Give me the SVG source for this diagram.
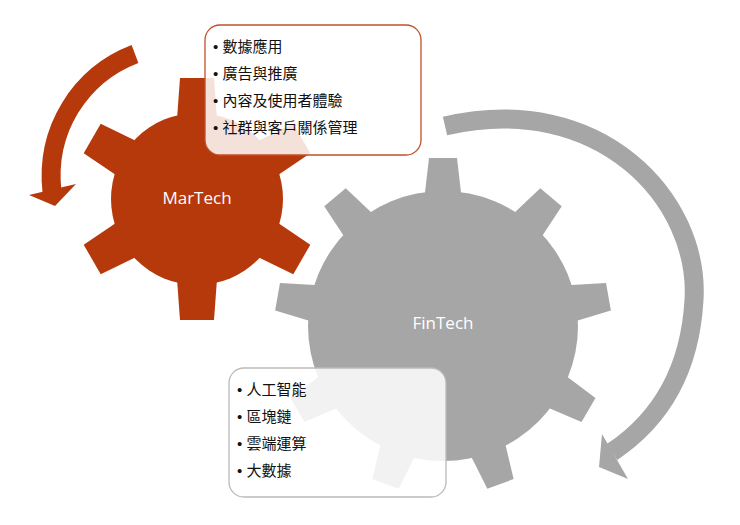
<svg xmlns="http://www.w3.org/2000/svg" width="740" height="525" viewBox="0 0 740 525">
<style>
.mar{fill:#B5390B}
.fin{fill:#A6A6A6}
.lbl{font-family:"Open Sans","Liberation Sans",sans-serif;font-size:17px;fill:#fff;text-anchor:middle}
.li{font-family:"Liberation Sans","Noto Sans CJK TC",sans-serif;font-size:15px;fill:#111}
.box{fill:#fff;fill-opacity:0.85;stroke-width:1.3}
</style>
<defs>
<polygon id="tm" points="-17,-121 17,-121 20,-80 -20,-80"/>
<polygon id="tf" points="-14,-168 14,-168 19,-125 -19,-125"/>
</defs>
<g id="connectors">
<path d="M135,54 C80,75 45,130 52,192" fill="none" stroke="#B5390B" stroke-width="19"/>
<polygon class="mar" points="29,195 76,184 55,206"/>
<path d="M445,126 C600,90 700,200 694,300 C690,370 660,420 612,452" fill="none" stroke="#A6A6A6" stroke-width="19"/>
<polygon class="fin" points="602,434 599,467 628,479"/>
</g>
<g id="martech" class="mar">
<circle cx="197" cy="199" r="86"/>
<use href="#tm" transform="translate(197 199)"/>
<use href="#tm" transform="translate(197 199) rotate(60)"/>
<use href="#tm" transform="translate(197 199) rotate(120)"/>
<use href="#tm" transform="translate(197 199) rotate(180)"/>
<use href="#tm" transform="translate(197 199) rotate(240)"/>
<use href="#tm" transform="translate(197 199) rotate(300)"/>
<text class="lbl" x="197" y="204">MarTech</text>
</g>
<g id="fintech" class="fin">
<circle cx="443" cy="326" r="135"/>
<use href="#tf" transform="translate(443 326)"/>
<use href="#tf" transform="translate(443 326) rotate(40)"/>
<use href="#tf" transform="translate(443 326) rotate(80)"/>
<use href="#tf" transform="translate(443 326) rotate(120)"/>
<use href="#tf" transform="translate(443 326) rotate(160)"/>
<use href="#tf" transform="translate(443 326) rotate(200)"/>
<use href="#tf" transform="translate(443 326) rotate(240)"/>
<use href="#tf" transform="translate(443 326) rotate(280)"/>
<use href="#tf" transform="translate(443 326) rotate(320)"/>
<text class="lbl" x="443" y="329">FinTech</text>
</g>
<g id="martech-list">
<rect class="box" x="205" y="25" width="216" height="130" rx="15" stroke="#C0502A"/>
<text class="li" x="213" y="52">• 數據應用</text>
<text class="li" x="213" y="79">• 廣告與推廣</text>
<text class="li" x="213" y="106">• 內容及使用者體驗</text>
<text class="li" x="213" y="133">• 社群與客戶關係管理</text>
</g>
<g id="fintech-list">
<rect class="box" x="229" y="368" width="217" height="129" rx="15" stroke="#BBBBBB"/>
<text class="li" x="237" y="395">• 人工智能</text>
<text class="li" x="237" y="422">• 區塊鏈</text>
<text class="li" x="237" y="449">• 雲端運算</text>
<text class="li" x="237" y="476">• 大數據</text>
</g>
</svg>
